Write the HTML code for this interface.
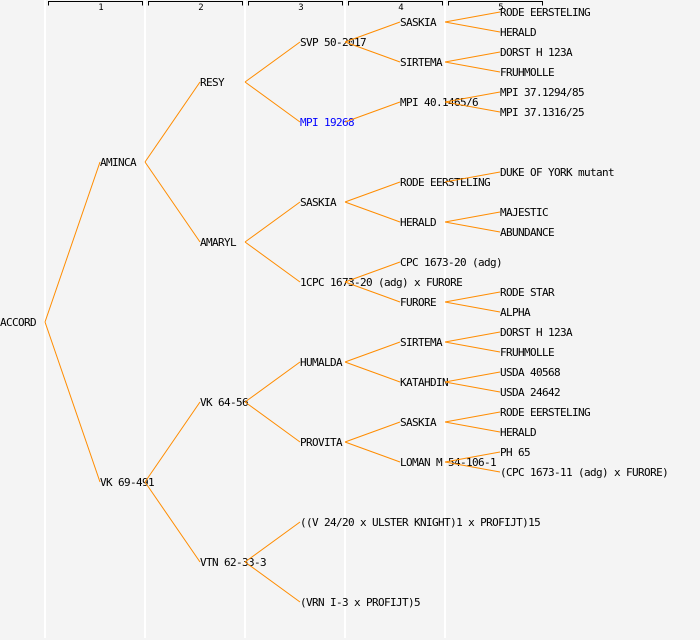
<!DOCTYPE html>
<html><head><meta charset="utf-8"><style>
html,body{margin:0;padding:0;background:#f4f4f4;}
svg{display:block;}
text{font-family:"DejaVu Sans Mono","Liberation Mono",monospace;font-size:11px;letter-spacing:-0.62px;fill:#000;}
.h{font-size:9px;letter-spacing:0;}
</style></head><body>
<svg width="700" height="640" viewBox="0 0 700 640" xmlns="http://www.w3.org/2000/svg">
<rect width="700" height="640" fill="#f4f4f4"/>
<g stroke="#fff" stroke-width="2">
<line x1="45" y1="0" x2="45" y2="638"/><line x1="145" y1="0" x2="145" y2="638"/><line x1="245" y1="0" x2="245" y2="638"/><line x1="345" y1="0" x2="345" y2="638"/><line x1="445" y1="0" x2="445" y2="638"/>
</g>
<g stroke="#000" stroke-width="1" fill="none">
<path d="M48.5 5.5V1.5H142.5V5.5"/><path d="M148.5 5.5V1.5H242.5V5.5"/><path d="M248.5 5.5V1.5H342.5V5.5"/><path d="M348.5 5.5V1.5H442.5V5.5"/><path d="M448.5 5.5V1.5H542.5V5.5"/>
</g>
<g text-anchor="middle"><text class="h" x="101" y="10">1</text><text class="h" x="201" y="10">2</text><text class="h" x="301" y="10">3</text><text class="h" x="401" y="10">4</text><text class="h" x="501" y="10">5</text></g>
<g>
<text x="0" y="326">ACCORD</text>
<text x="100" y="166">AMINCA</text><text x="100" y="486">VK 69-491</text>
<text x="200" y="86">RESY</text><text x="200" y="246">AMARYL</text><text x="200" y="406">VK 64-56</text><text x="200" y="566">VTN 62-33-3</text>
<text x="300" y="46">SVP 50-2017</text><text x="300" y="126" style="fill:#0000ff">MPI 19268</text><text x="300" y="206">SASKIA</text><text x="300" y="286">1CPC 1673-20 (adg) x FURORE</text><text x="300" y="366">HUMALDA</text><text x="300" y="446">PROVITA</text><text x="300" y="526">((V 24/20 x ULSTER KNIGHT)1 x PROFIJT)15</text><text x="300" y="606">(VRN I-3 x PROFIJT)5</text>
<text x="400" y="26">SASKIA</text><text x="400" y="66">SIRTEMA</text><text x="400" y="106">MPI 40.1465/6</text><text x="400" y="186">RODE EERSTELING</text><text x="400" y="226">HERALD</text><text x="400" y="266">CPC 1673-20 (adg)</text><text x="400" y="306">FURORE</text><text x="400" y="346">SIRTEMA</text><text x="400" y="386">KATAHDIN</text><text x="400" y="426">SASKIA</text><text x="400" y="466">LOMAN M 54-106-1</text>
<text x="500" y="16">RODE EERSTELING</text><text x="500" y="36">HERALD</text><text x="500" y="56">DORST H 123A</text><text x="500" y="76">FRUHMOLLE</text><text x="500" y="96">MPI 37.1294/85</text><text x="500" y="116">MPI 37.1316/25</text>
<text x="500" y="176">DUKE OF YORK mutant</text><text x="500" y="216">MAJESTIC</text><text x="500" y="236">ABUNDANCE</text><text x="500" y="296">RODE STAR</text><text x="500" y="316">ALPHA</text>
<text x="500" y="336">DORST H 123A</text><text x="500" y="356">FRUHMOLLE</text><text x="500" y="376">USDA 40568</text><text x="500" y="396">USDA 24642</text><text x="500" y="416">RODE EERSTELING</text><text x="500" y="436">HERALD</text><text x="500" y="456">PH 65</text><text x="500" y="476">(CPC 1673-11 (adg) x FURORE)</text>
</g>
<g stroke="#ff8c00" stroke-width="1" fill="none">
<path d="M45 322L100 162M45 322L100 482"/>
<path d="M145 162L200 82M145 162L200 242M145 482L200 402M145 482L200 562"/>
<path d="M245 82L300 42M245 82L300 122M245 242L300 202M245 242L300 282M245 402L300 362M245 402L300 442M245 562L300 522M245 562L300 602"/>
<path d="M345 42L400 22M345 42L400 62M345 122L400 102M345 202L400 182M345 202L400 222M345 282L400 262M345 282L400 302M345 362L400 342M345 362L400 382M345 442L400 422M345 442L400 462"/>
<path d="M445 22L500 12M445 22L500 32M445 62L500 52M445 62L500 72M445 102L500 92M445 102L500 112M445 182L500 172M445 222L500 212M445 222L500 232M445 302L500 292M445 302L500 312M445 342L500 332M445 342L500 352M445 382L500 372M445 382L500 392M445 422L500 412M445 422L500 432M445 462L500 452M445 462L500 472"/>
</g>
</svg>
</body></html>
